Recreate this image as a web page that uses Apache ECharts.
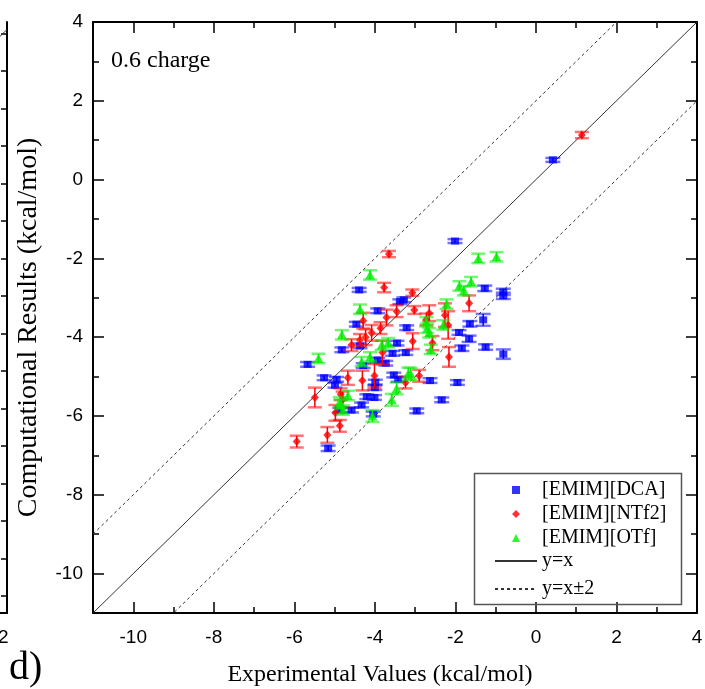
<!DOCTYPE html>
<html><head><meta charset="utf-8">
<script src="https://cdn.jsdelivr.net/npm/echarts@6/dist/echarts.min.js"></script>
<style>html,body{margin:0;padding:0;background:#fff}#c{width:705px;height:689px}</style>
</head><body><div id="c"></div>
<script>
// ---------------- data ----------------
const seriesNames = ['[EMIM][DCA]', '[EMIM][NTf2]', '[EMIM][OTf]'];
const lineNames = ['y=x', 'y=x\u00b12'];

const dcaX = [0.42,-2.01,-1.27,-0.81,-0.81,-1.31,-1.64,-1.91,-1.66,-1.84,-1.25,-0.81,-1.95,-2.34,-4.39,-3.38,-3.28,-3.93,-4.46,-3.21,-4.82,-4.37,-3.45,-3.56,-3.23,-5.67,-3.93,-3.73,-4.29,-5.26,-4.95,-4.99,-3.99,-4.00,-3.53,-3.42,-4.20,-4.01,-2.63,-2.96,-4.33,-4.58,-4.87,-5.16,-4.04];
const dcaY = [0.50,-1.56,-2.76,-2.85,-2.95,-3.56,-3.66,-3.88,-4.04,-4.28,-4.25,-4.43,-5.15,-5.59,-2.80,-3.10,-3.05,-3.33,-3.67,-3.76,-4.32,-4.22,-4.15,-4.41,-4.39,-4.69,-4.58,-4.66,-4.72,-5.03,-5.07,-5.22,-5.14,-5.28,-4.96,-5.07,-5.51,-5.53,-5.10,-5.87,-5.72,-5.85,-5.85,-6.82,-5.95];
const dcaErr = [0.05,0.05,0.07,0.08,0.08,0.15,0.07,0.06,0.08,0.07,0.07,0.12,0.06,0.06,0.05,0.06,0.06,0.06,0.06,0.06,0.06,0.06,0.06,0.06,0.06,0.06,0.06,0.06,0.06,0.06,0.06,0.06,0.06,0.06,0.06,0.06,0.06,0.06,0.06,0.06,0.06,0.06,0.06,0.07,0.06];

const ntf2X = [1.14,-3.65,-3.77,-3.07,-3.46,-3.02,-2.65,-3.71,-4.29,-3.86,-4.08,-4.23,-4.37,-4.58,-3.06,-2.57,-2.26,-2.18,-1.66,-2.72,-2.16,-2.90,-3.24,-3.81,-4.01,-4.31,-4.67,-5.49,-4.85,-4.80,-4.98,-4.87,-5.18,-5.94];
const ntf2Y = [1.13,-1.89,-2.74,-2.87,-3.34,-3.31,-3.39,-3.50,-3.58,-3.77,-3.89,-4.00,-4.07,-4.20,-4.10,-4.15,-3.44,-3.69,-3.14,-3.55,-4.50,-4.98,-5.15,-4.39,-4.98,-5.10,-5.03,-5.53,-5.45,-5.58,-5.92,-6.25,-6.48,-6.65];
const ntf2Err = [0.08,0.08,0.12,0.08,0.15,0.10,0.20,0.20,0.20,0.15,0.20,0.20,0.15,0.15,0.20,0.18,0.30,0.35,0.20,0.15,0.25,0.15,0.15,0.30,0.30,0.25,0.18,0.25,0.15,0.20,0.20,0.15,0.20,0.15];

const otfX = [-4.12,-1.43,-0.98,-1.90,-1.79,-1.61,-4.37,-2.22,-4.82,-3.83,-3.67,-2.70,-2.65,-2.30,-2.72,-2.61,-4.12,-4.33,-5.40,-3.11,-3.17,-3.46,-3.58,-4.67,-4.87,-4.79,-4.06,-4.85];
const otfY = [-2.42,-2.00,-1.96,-2.70,-2.82,-2.59,-3.29,-3.16,-3.94,-4.20,-4.14,-3.77,-3.89,-3.69,-3.61,-4.31,-4.50,-4.62,-4.54,-4.93,-4.92,-5.30,-5.59,-5.48,-5.64,-5.85,-6.00,-5.70];
const otfErr = [0.12,0.12,0.12,0.12,0.12,0.12,0.12,0.12,0.12,0.12,0.12,0.12,0.12,0.12,0.12,0.12,0.12,0.12,0.12,0.15,0.15,0.15,0.15,0.12,0.12,0.12,0.15,0.12];

const axisMin = -11, axisMax = 4;
const majorTicks = [-10,-8,-6,-4,-2,0,2,4];
const minorTicks = [-11,-9,-7,-5,-3,-1,1,3];
const offsetLines = [2, -2];
// partial neighbouring panel (left edge)
const prevXRange = [-13.6, 2.1];
const prevYRange = [-13.46, 2.3];
const prevXLabels = [2];
const prevYTicks = [-13,-12,-11,-10,-9,-8,-7,-6,-5,-4,-3,-2,-1,0,1,2];

// ---------------- helpers ----------------
const zip = (xs, ys, es) => xs.map((x, i) => [x, ys[i], es ? es[i] : 0]);
const serif = 'Liberation Serif';
const sans = 'Liberation Sans';

function errRender(color, capW) {
  return function (params, api) {
    const x = api.value(0), y = api.value(1), e = api.value(2);
    const t = api.coord([x, y + e]), b = api.coord([x, y - e]);
    return { type: 'group', children: [
      { type: 'line', shape: { x1: t[0], y1: t[1], x2: b[0], y2: b[1] }, style: { stroke: color, lineWidth: 1.5 } },
      { type: 'line', shape: { x1: t[0] - capW / 2, y1: t[1], x2: t[0] + capW / 2, y2: t[1] }, style: { stroke: color, lineWidth: 2.5, opacity: 0.55 } },
      { type: 'line', shape: { x1: b[0] - capW / 2, y1: b[1], x2: b[0] + capW / 2, y2: b[1] }, style: { stroke: color, lineWidth: 2.5, opacity: 0.55 } }
    ]};
  };
}

function ax(gridIndex, position, opts) {
  return Object.assign({
    type: 'value', gridIndex, position, min: axisMin, max: axisMax,
    splitLine: { show: false },
    axisLine: { show: false, onZero: false },
    axisTick: { show: false },
    axisLabel: { show: false }
  }, opts);
}
const majorLine = { show: true, onZero: false, lineStyle: { color: '#000', width: 2 } };
const majTick = { show: true, inside: true, length: 11, customValues: majorTicks, lineStyle: { color: '#000', width: 1.5 } };
const minTick = { show: true, inside: true, length: 6, customValues: minorTicks, lineStyle: { color: '#000', width: 1.5 } };
const tickLabel = { show: true, customValues: majorTicks, fontFamily: sans, fontSize: 19, color: '#000' };

const lineX = [axisMin, axisMax];
const colors = ['#0000ff', '#ff0000', '#00ee00'];
const gridBase = { top: 22, bottom: 76, containLabel: false, outerBoundsMode: 'none' };

const option = {
  animation: false,
  backgroundColor: '#fff',
  title: { text: '0.6 charge', left: 106, top: 44,
    textStyle: { fontFamily: serif, fontSize: 24, fontWeight: 'normal', color: '#000' } },
  grid: [
    Object.assign({ left: 93, right: 8 }, gridBase),
    Object.assign({ left: 93, right: 8 }, gridBase),
    Object.assign({ left: -593, width: 600 }, gridBase)
  ],
  xAxis: [
    ax(0, 'bottom', { axisLine: majorLine, axisTick: majTick, axisLabel: Object.assign({ margin: 15 }, tickLabel),
      name: 'Experimental Values (kcal/mol)', nameLocation: 'middle', nameGap: 50,
      nameTextStyle: { fontFamily: serif, fontSize: 24, color: '#000', padding: [0, 30, 0, 0] } }),
    ax(0, 'top', { axisLine: majorLine, axisTick: majTick }),
    ax(1, 'bottom', { axisTick: minTick }),
    ax(1, 'top', { axisTick: minTick }),
    { type: 'value', gridIndex: 2, position: 'bottom', min: prevXRange[0], max: prevXRange[1],
      splitLine: { show: false }, axisLine: { show: true, onZero: false, lineStyle: { color: '#000', width: 2 } },
      axisTick: { show: false },
      axisLabel: { show: true, customValues: prevXLabels, margin: 15, fontFamily: sans, fontSize: 19, color: '#000' } }
  ],
  yAxis: [
    ax(0, 'left', { axisLine: majorLine, axisTick: majTick, axisLabel: Object.assign({ margin: 10 }, tickLabel),
      name: 'Computational Results (kcal/mol)', nameLocation: 'middle', nameGap: 50,
      nameTextStyle: { fontFamily: serif, fontSize: 28, color: '#000', padding: [0, 20, 0, 0] } }),
    ax(0, 'right', { axisLine: majorLine, axisTick: majTick }),
    ax(1, 'left', { axisTick: minTick }),
    ax(1, 'right', { axisTick: minTick }),
    { type: 'value', gridIndex: 2, position: 'right', min: prevYRange[0], max: prevYRange[1],
      splitLine: { show: false }, axisLine: { show: true, onZero: false, lineStyle: { color: '#000', width: 2 } },
      axisTick: { show: true, inside: true, length: 6, customValues: prevYTicks, lineStyle: { color: '#000', width: 1.5 } },
      axisLabel: { show: false } }
  ],
  legend: [
    { data: [
        { name: seriesNames[0], icon: 'path://M0,0L2,0L2,2L0,2Z' },
        { name: seriesNames[1], icon: 'path://M1,0L2,1L1,2L0,1Z' },
        { name: seriesNames[2], icon: 'path://M1,0L2,2L0,2Z' } ],
      orient: 'vertical', left: 507, top: 475, itemWidth: 42, itemHeight: 8, itemGap: 4, symbolKeepAspect: true,
      textStyle: { fontFamily: serif, fontSize: 20, color: '#000', lineHeight: 20 } },
    { data: lineNames, orient: 'vertical', left: 494, top: 551, padding: 0, itemWidth: 42, itemHeight: 14, itemGap: 8,
      itemStyle: { opacity: 0 },
      textStyle: { fontFamily: serif, fontSize: 20, color: '#000', lineHeight: 20 } }
  ],
  graphic: [
    { type: 'rect', left: 472, top: 471, shape: { width: 207, height: 131 }, style: { fill: 'none', stroke: '#555', lineWidth: 1.5 }, z: 10 },
    { type: 'text', left: 9, top: 648, style: { text: 'd)', fontFamily: serif, fontSize: 40, fill: '#000' } }
  ],
  series: [
    { name: lineNames[0], type: 'line', xAxisIndex: 0, yAxisIndex: 0, symbol: 'none', silent: true,
      data: lineX.map(x => [x, x]), lineStyle: { color: '#333', width: 1 }, itemStyle: { color: '#333' }, z: 1 },
    { name: lineNames[1], type: 'line', xAxisIndex: 0, yAxisIndex: 0, symbol: 'none', silent: true,
      data: lineX.map(x => [x, x + offsetLines[0]]), lineStyle: { color: '#333', width: 1, type: [3, 3] }, itemStyle: { color: '#333' }, z: 1 },
    { name: lineNames[1], type: 'line', xAxisIndex: 0, yAxisIndex: 0, symbol: 'none', silent: true,
      data: lineX.map(x => [x, x + offsetLines[1]]), lineStyle: { color: '#333', width: 1, type: [3, 3] }, itemStyle: { color: '#333' }, z: 1 },
    { name: 'prev-diag', type: 'line', xAxisIndex: 4, yAxisIndex: 4, symbol: 'none', silent: true,
      data: prevXRange.map(x => [x, x]), lineStyle: { color: '#333', width: 1 }, z: 1 },

    { type: 'custom', xAxisIndex: 0, yAxisIndex: 0, renderItem: errRender(colors[0], 15), data: zip(dcaX, dcaY, dcaErr), z: 2, silent: true },
    { name: seriesNames[0], type: 'scatter', xAxisIndex: 0, yAxisIndex: 0, symbol: 'rect', symbolSize: [8, 7],
      itemStyle: { color: colors[0] }, data: zip(dcaX, dcaY), z: 3 },
    { type: 'custom', xAxisIndex: 0, yAxisIndex: 0, renderItem: errRender(colors[1], 14), data: zip(ntf2X, ntf2Y, ntf2Err), z: 4, silent: true },
    { name: seriesNames[1], type: 'scatter', xAxisIndex: 0, yAxisIndex: 0, symbol: 'diamond', symbolSize: [8, 9],
      itemStyle: { color: colors[1] }, data: zip(ntf2X, ntf2Y), z: 5 },
    { type: 'custom', xAxisIndex: 0, yAxisIndex: 0, renderItem: errRender(colors[2], 14), data: zip(otfX, otfY, otfErr), z: 6, silent: true },
    { name: seriesNames[2], type: 'scatter', xAxisIndex: 0, yAxisIndex: 0, symbol: 'triangle', symbolSize: [10, 9],
      itemStyle: { color: colors[2] }, data: zip(otfX, otfY), z: 7 }
  ]
};
const chart = echarts.init(document.getElementById('c'), null, { renderer: 'canvas' });
chart.setOption(option);
</script></body></html>
